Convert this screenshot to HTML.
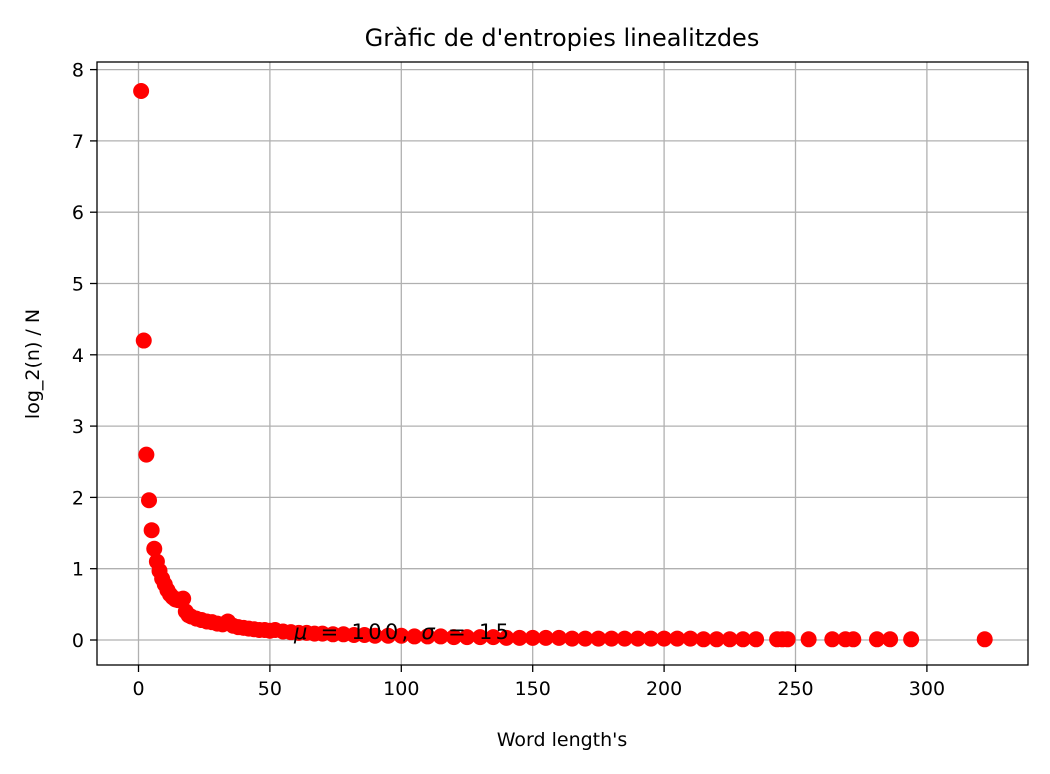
<!DOCTYPE html>
<html><head><meta charset="utf-8"><style>
html,body{margin:0;padding:0;background:#fff;}
svg{display:block;font-family:"DejaVu Sans","Liberation Sans",sans-serif;}
</style></head><body>
<svg id="chart" width="1050" height="774">
<rect x="0" y="0" width="1050" height="774" fill="#fff"/>
<g id="grid"></g>
<g id="points"></g>
<rect x="97" y="62" width="931" height="603" fill="none" stroke="#000" stroke-width="1.3"/>
<g id="ticks"></g>
<text x="562" y="46" text-anchor="middle" font-size="24">Gràfic de d'entropies linealitzdes</text>
<text x="562" y="746" text-anchor="middle" font-size="19">Word length's</text>
<text transform="translate(39,364) rotate(-90)" text-anchor="middle" font-size="19">log_2(n) / N</text>
<text x="294" y="639" font-size="21" textLength="215" lengthAdjust="spacing"><tspan font-style="italic">μ</tspan> = 100,  <tspan font-style="italic">σ</tspan> = 15</text>
</svg>
<script>
const xVals=[1,2,3,4,5,6,7,8,9,10,11,12,13,14,15,16,17,18,19,20,
22,24,26,28,30,32,34,36,38,40,42,44,46,48,50,
52,55,58,61,64,67,70,
74,78,82,86,90,
95,100,105,110,115,120,125,130,135,140,145,150,155,160,165,170,175,180,185,190,195,200,205,210,215,220,225,230,235,
243,245,247,255,264,269,272,281,286,294,322];
const yVals=[7.7,4.2,2.6,1.96,1.54,1.28,1.1,0.97,0.86,0.78,0.7,0.64,0.6,0.57,0.56,0.57,0.58,0.4,0.35,0.33,
0.3,0.28,0.26,0.25,0.23,0.22,0.26,0.2,0.18,0.17,0.16,0.15,0.14,0.14,0.13,
0.14,0.12,0.11,0.1,0.1,0.09,0.09,
0.08,0.08,0.07,0.07,0.06,
0.06,0.06,0.05,0.05,0.05,0.04,0.04,0.04,0.04,0.03,0.03,0.03,0.03,0.03,0.02,0.02,0.02,0.02,0.02,0.02,0.02,0.02,0.02,0.02,0.01,0.01,0.01,0.01,0.01,
0.01,0.01,0.01,0.01,0.01,0.01,0.01,0.01,0.01,0.01,0.01];
const xTicks=[0,50,100,150,200,250,300];
const yTicks=[0,1,2,3,4,5,6,7,8];
const NS="http://www.w3.org/2000/svg";
const X=v=>138.5+v*2.628;
const Y=v=>640-v*71.3;
function mk(tag,attrs,parent){const e=document.createElementNS(NS,tag);for(const k in attrs)e.setAttribute(k,attrs[k]);parent.appendChild(e);return e;}
const grid=document.getElementById('grid'),ticks=document.getElementById('ticks'),pts=document.getElementById('points');
xTicks.forEach(t=>{
  const gl=mk('line',{x1:X(t),x2:X(t),y1:62,y2:665,stroke:'#b0b0b0','stroke-width':1.3},grid);
  
  
  const tl=mk('line',{x1:X(t),x2:X(t),y1:665,y2:672,stroke:'#000','stroke-width':1.3},ticks);
  
  
  const tx=mk('text',{x:X(t),y:695,'text-anchor':'middle','font-size':19},ticks);
  tx.textContent=t;
  
  
});
yTicks.forEach(t=>{
  const gl=mk('line',{x1:97,x2:1028,y1:Y(t),y2:Y(t),stroke:'#b0b0b0','stroke-width':1.3},grid);
  
  
  const tl=mk('line',{x1:90,x2:97,y1:Y(t),y2:Y(t),stroke:'#000','stroke-width':1.3},ticks);
  
  
  const tx=mk('text',{x:84,y:Y(t)+7,'text-anchor':'end','font-size':19},ticks);
  tx.textContent=t;
  
  
});
xVals.forEach((x,i)=>{
  const c=mk('circle',{cx:X(x),cy:Y(yVals[i]),r:8,fill:'#ff0000'},pts);
  
  
});
</script>
</body></html>
